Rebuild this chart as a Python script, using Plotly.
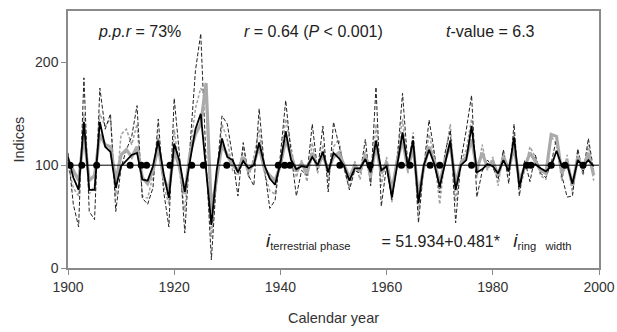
import plotly.graph_objects as go

years = list(range(1900, 2000))

# black solid line (terrestrial phase index)
terrestrial = [108, 88, 76, 142, 76, 76, 142, 118, 113, 78,
               99, 104, 110, 112, 86, 85, 99, 124, 92, 68,
               121, 104, 74, 105, 135, 150, 98, 42, 95, 126,
               108, 105, 93, 104, 97, 100, 122, 100, 87, 81,
               102, 133, 105, 96, 99, 98, 108, 100, 113, 93,
               112, 107, 99, 85, 97, 97, 106, 93, 124, 95,
               99, 69, 100, 132, 99, 124, 63, 100, 115, 101,
               79, 101, 124, 76, 100, 105, 138, 93, 96, 101,
               99, 92, 105, 94, 127, 79, 101, 99, 101, 97,
               94, 99, 114, 99, 101, 82, 105, 99, 105, 99]

# thick grey solid line
estimated = [105, 95, 85, 130, 85, 90, 130, 120, 118, 85,
             110, 115, 108, 118, 88, 82, 95, 118, 88, 75,
             115, 98, 72, 112, 130, 140, 180, 55, 90, 120,
             110, 100, 95, 108, 94, 102, 118, 96, 90, 85,
             100, 125, 110, 94, 102, 92, 112, 98, 110, 95,
             108, 112, 100, 88, 100, 94, 110, 90, 120, 92,
             103, 75, 104, 125, 96, 118, 70, 98, 118, 104,
             82, 105, 120, 82, 102, 108, 125, 96, 112, 98,
             104, 90, 108, 96, 118, 85, 98, 112, 104, 95,
             92, 130, 128, 92, 104, 80, 108, 96, 112, 90]

# black dashed line
ring_width = [112, 62, 40, 185, 55, 47, 175, 135, 150, 55,
              98, 115, 128, 158, 68, 62, 78, 145, 75, 40,
              165, 110, 34, 120, 192, 228, 105, 8, 90, 148,
              140, 108, 70, 122, 90, 80, 155, 97, 58, 66,
              110, 163, 112, 70, 95, 90, 140, 95, 138, 74,
              142, 120, 100, 76, 95, 92, 125, 80, 176, 60,
              100, 66, 105, 170, 100, 128, 44, 98, 144, 112,
              73, 112, 134, 44, 105, 134, 168, 69, 94, 105,
              98, 86, 115, 82, 140, 70, 105, 84, 110, 92,
              88, 102, 126, 90, 69, 70, 116, 92, 126, 95]

# grey dashed line
other_series = [100, 78, 70, 150, 72, 80, 150, 138, 145, 70,
                130, 135, 120, 140, 70, 68, 90, 130, 80, 62,
                135, 95, 55, 115, 155, 175, 165, 30, 85, 140,
                125, 95, 90, 118, 88, 108, 135, 92, 75, 72,
                105, 145, 118, 88, 105, 84, 122, 92, 120, 85,
                118, 125, 96, 78, 104, 86, 115, 82, 140, 80,
                108, 64, 110, 145, 92, 132, 55, 96, 130, 108,
                62, 108, 140, 64, 104, 115, 145, 88, 120, 95,
                108, 80, 114, 90, 130, 76, 95, 118, 108, 90,
                86, 128, 120, 85, 110, 72, 114, 90, 120, 85]

mean_line_x = [1900, 2000]
mean_line_y = [100, 100]
dot_years = [1900.4, 1902.6, 1905.4, 1911.7, 1913.8, 1914.8, 1919.2, 1923.3,
             1925.5, 1929.9, 1939.6, 1940.8, 1941.8, 1951.2, 1956.9, 1962.8,
             1964.4, 1968.2, 1970.0, 1976.0, 1986.4, 1987.2, 1991.0, 1993.6, 1997.0]
dot_values = [100] * len(dot_years)

fig = go.Figure()
fig.add_trace(go.Scatter(x=years, y=other_series, mode="lines",
                         line=dict(color="#a0a0a0", width=1.5, dash="3px,2px")))
fig.add_trace(go.Scatter(x=years, y=ring_width, mode="lines",
                         line=dict(color="#222222", width=1, dash="4px,2px")))
fig.add_trace(go.Scatter(x=years, y=estimated, mode="lines",
                         line=dict(color="#aaaaaa", width=3.2)))
fig.add_trace(go.Scatter(x=years, y=terrestrial, mode="lines",
                         line=dict(color="black", width=1.8)))
fig.add_trace(go.Scatter(x=mean_line_x, y=mean_line_y, mode="lines",
                         line=dict(color="black", width=1)))
fig.add_trace(go.Scatter(x=dot_years, y=dot_values, mode="markers",
                         marker=dict(color="black", size=7)))

font = "Liberation Sans, Arial, sans-serif"
ann_font = dict(family=font, size=16, color="#222")
annotations = [
    dict(x=1913.4, y=230, text="<i>p.p.r</i> = 73%", showarrow=False, font=ann_font),
    dict(x=1946.3, y=230, text="<i>r</i> = 0.64 (<i>P</i> < 0.001)", showarrow=False, font=ann_font),
    dict(x=1979.5, y=230, text="<i>t</i>-value = 6.3", showarrow=False, font=ann_font),
    dict(x=1937.0, y=26, xanchor="left",
         text="<span style='font-size:19px'><i>i</i></span><sub>terrestrial phase</sub>"
              "       = 51.934+0.481*   <span style='font-size:19px'><i>i</i></span><sub>ring   width</sub>",
         showarrow=False, font=ann_font),
    dict(xref="paper", yref="paper", x=0.5, y=-0.195, xanchor="center", yanchor="middle",
         text="Calendar year", showarrow=False,
         font=dict(family=font, size=14.5, color="#333")),
    dict(xref="paper", yref="paper", x=-0.094, y=0.5, xanchor="center", yanchor="middle",
         text="Indices", textangle=-90, showarrow=False,
         font=dict(family=font, size=14.5, color="#333")),
]

fig.update_layout(
    width=617, height=332,
    margin=dict(l=68, r=18, t=11, b=64),
    paper_bgcolor="white", plot_bgcolor="white",
    showlegend=False,
    font=dict(family=font, size=12, color="#333"),
    annotations=annotations,
)
fig.update_xaxes(range=[1900, 2000], tickvals=[1900, 1920, 1940, 1960, 1980, 2000],
                 showgrid=False, zeroline=False, showline=True, linecolor="#8a8a8a",
                 linewidth=1.5, mirror=True, ticks="outside", ticklen=5, tickcolor="#8a8a8a",
                 tickfont=dict(size=14, color="#333"), automargin=False)
fig.update_yaxes(range=[0, 250], tickvals=[0, 100, 200],
                 showgrid=False, zeroline=False, showline=True, linecolor="#8a8a8a",
                 linewidth=1.5, mirror=True, ticks="outside", ticklen=5, tickcolor="#8a8a8a",
                 tickfont=dict(size=14, color="#333"), automargin=False)

fig.write_html("out.html", config={"displayModeBar": False},
               post_script="document.body.style.margin='0';document.body.style.overflow='hidden';")
